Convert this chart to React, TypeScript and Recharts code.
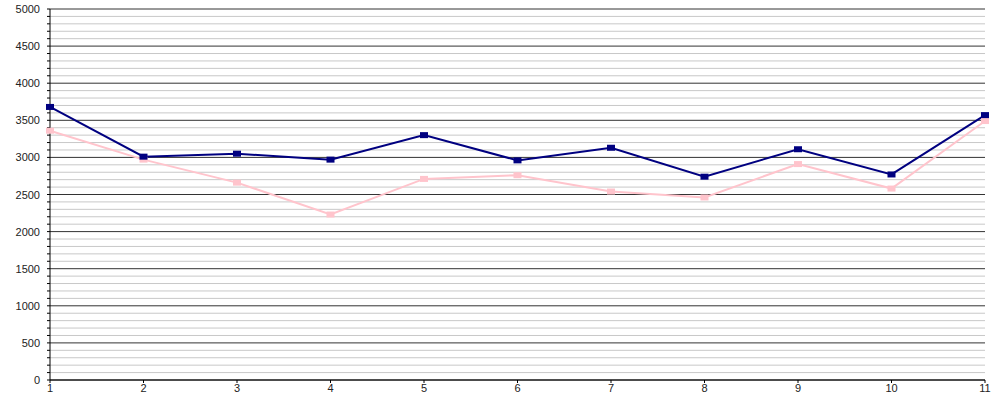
import React from 'react'
import { LineChart, Line, XAxis, YAxis, ReferenceLine } from 'recharts'

// values
const categories = ['1', '2', '3', '4', '5', '6', '7', '8', '9', '10', '11']
const seriesBlue = [3680, 3010, 3050, 2970, 3300, 2960, 3130, 2740, 3110, 2770, 3570]
const seriesPink = [3360, 2970, 2660, 2230, 2710, 2760, 2540, 2460, 2910, 2580, 3490]

const majorTicks = [0, 500, 1000, 1500, 2000, 2500, 3000, 3500, 4000, 4500, 5000]
const allTicks = Array.from({ length: 51 }, (_, i) => i * 100)
const minorTicks = allTicks.filter((v) => v % 500 !== 0)

const data = categories.map((c, i) => ({
  name: c,
  blue: seriesBlue[i],
  pink: seriesPink[i],
}))

const font = "'Liberation Sans', Arial, sans-serif"

const SquareDot = (color: string) => (props: any) => {
  const { cx, cy, index } = props
  if (cx == null || cy == null) return <g key={index} />
  return <rect key={index} x={cx - 4} y={cy - 3} width={8} height={6} fill={color} />
}

const YTick = (props: any) => {
  const { x, y, payload } = props
  if (payload.value % 500 !== 0) return <g />
  return (
    <text x={x} y={y} dy={4} textAnchor="end" fontSize={11} fill="#222" fontFamily={font}>
      {payload.value}
    </text>
  )
}

const XTick = (props: any) => {
  const { x, y, payload } = props
  return (
    <text x={x} y={y} dy={8} textAnchor="middle" fontSize={11} fill="#222" fontFamily={font}>
      {payload.value}
    </text>
  )
}

const App: React.FC = () => {
  return (
    <div style={{ position: 'absolute', left: 0, top: 0, width: 1000, height: 400, background: '#fff' }}>
      <LineChart width={1000} height={400} data={data} margin={{ top: 9, right: 15, left: 0, bottom: 0 }}>
        {minorTicks.map((v) => (
          <ReferenceLine key={'m' + v} y={v} stroke="#c8c8c8" strokeWidth={1} />
        ))}
        {majorTicks.map((v) => (
          <ReferenceLine key={'M' + v} y={v} stroke="#333" strokeWidth={1} />
        ))}
        <XAxis
          dataKey="name"
          height={20}
          stroke="#000"
          tickSize={3}
          tickMargin={1}
          tick={<XTick />}
          interval={0}
        />
        <YAxis
          width={50}
          domain={[0, 5000]}
          ticks={allTicks}
          interval={0}
          stroke="#000"
          tickSize={3}
          tickMargin={7}
          tick={<YTick />}
        />
        <Line
          dataKey="pink"
          stroke="#ffc4cc"
          strokeWidth={2}
          dot={SquareDot('#ffc4cc')}
          isAnimationActive={false}
        />
        <Line
          dataKey="blue"
          stroke="#000080"
          strokeWidth={2}
          dot={SquareDot('#000080')}
          isAnimationActive={false}
        />
      </LineChart>
    </div>
  )
}

export default App
